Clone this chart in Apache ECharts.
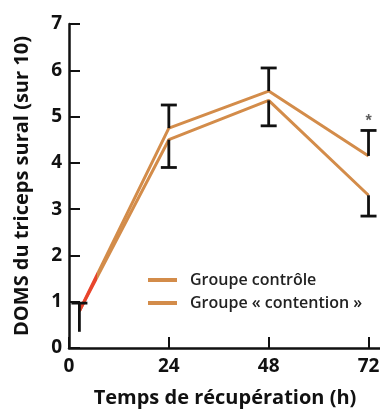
<!DOCTYPE html>
<html><head><meta charset="utf-8">
<script src="https://cdn.jsdelivr.net/npm/echarts@6/dist/echarts.min.js"></script>
<style>html,body{margin:0;padding:0;background:#fff}#c{width:380px;height:410px}</style>
</head><body><div id="c"></div>
<script>
const hours = [2.5, 24, 48, 72];
const controle = [0.8, 4.75, 5.55, 4.15];
const contention = [0.8, 4.5, 5.35, 3.3];
const errX = [2.5, 24, 24, 48, 48, 72, 72];
const errFrom = [0.35, 4.75, 4.5, 5.55, 5.35, 4.15, 3.3];
const errTo = [0.97, 5.25, 3.9, 6.05, 4.8, 4.7, 2.85];
const xTicks = [0, 24, 48, 72];
const starPoint = [72, 4.9];

const orange = '#d38c4a';
const red = '#e8452c';
const font = 'Open Sans';

const chart = echarts.init(document.getElementById('c'));
chart.setOption({
  animation: false,
  grid: {left: 69, top: 24, width: 312, height: 324, outerBoundsMode: 'none', containLabel: false},
  xAxis: {
    type: 'value', min: 0, max: 75, interval: 24,
    axisLine: {lineStyle: {color: '#111', width: 2.5}},
    axisTick: {inside: true, length: 11, lineStyle: {color: '#111', width: 2}, customValues: xTicks},
    axisLabel: {color: '#111', fontFamily: font, fontWeight: 'bold', fontSize: 19, margin: 9,
      customValues: xTicks},
    splitLine: {show: false},
    name: 'Temps de récupération (h)', nameLocation: 'middle', nameGap: 40,
    nameTextStyle: {color: '#111', fontFamily: font, fontWeight: 'bold', fontSize: 20}
  },
  yAxis: {
    type: 'value', min: 0, max: 7, interval: 1,
    axisLine: {show: true, lineStyle: {color: '#111', width: 2.5}},
    axisTick: {show: true, inside: true, length: 11, lineStyle: {color: '#111', width: 2}},
    axisLabel: {color: '#111', fontFamily: font, fontWeight: 'bold', fontSize: 19, margin: 7},
    splitLine: {show: false},
    name: 'DOMS du triceps sural (sur 10)', nameLocation: 'middle', nameGap: 37,
    nameTextStyle: {color: '#111', fontFamily: font, fontWeight: 'bold', fontSize: 20}
  },
  visualMap: {
    show: false, type: 'piecewise', dimension: 0, seriesIndex: [0, 1],
    pieces: [{gte: 0, lt: 6.7, color: red}, {gte: 6.7, lte: 75, color: orange}]
  },
  legend: {
    orient: 'vertical', left: 143, top: 267, itemWidth: 29, itemHeight: 4, itemGap: 7,
    textStyle: {color: '#222', fontFamily: font, fontWeight: 600, fontSize: 16, padding: [0, 0, 0, 8]},
    data: [
      {name: 'Groupe contrôle', icon: 'rect', itemStyle: {color: orange}},
      {name: 'Groupe « contention »', icon: 'rect', itemStyle: {color: orange}}
    ]
  },
  series: [
    {name: 'Groupe contrôle', type: 'line', symbol: 'none',
     data: hours.map((h, i) => [h, controle[i]]),
     lineStyle: {width: 3}},
    {name: 'Groupe « contention »', type: 'line', symbol: 'none',
     data: hours.map((h, i) => [h, contention[i]]),
     lineStyle: {width: 3}},
    {type: 'custom', silent: true, z: 5, coordinateSystem: 'cartesian2d',
     data: errX.map((x, i) => [x, errFrom[i], errTo[i]]),
     renderItem: function (params, api) {
       const a = api.coord([api.value(0), api.value(1)]);
       const b = api.coord([api.value(0), api.value(2)]);
       const w = 8;
       const st = {stroke: '#111', lineWidth: 2.8};
       return {type: 'group', children: [
         {type: 'line', shape: {x1: a[0], y1: a[1], x2: b[0], y2: b[1]}, style: st},
         {type: 'line', shape: {x1: b[0] - w, y1: b[1], x2: b[0] + w, y2: b[1]}, style: st}
       ]};
     }},
    {type: 'scatter', silent: true, symbolSize: 0, data: [starPoint],
     label: {show: true, position: 'inside', formatter: '*', color: '#333', fontSize: 16, fontWeight: 'bold'}}
  ]
});
</script></body></html>
